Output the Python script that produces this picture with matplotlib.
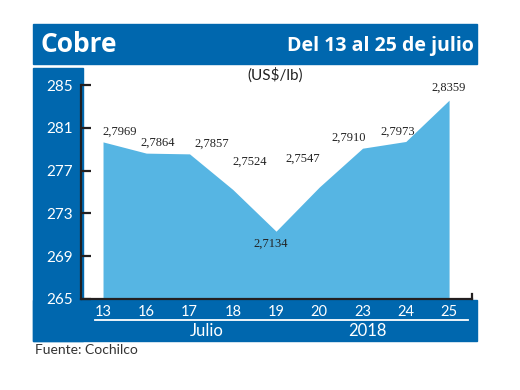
import matplotlib
matplotlib.use("Agg")
import matplotlib.pyplot as plt
from matplotlib.patches import Rectangle
from matplotlib.lines import Line2D

# ---- data ----
days = ["13", "16", "17", "18", "19", "20", "23", "24", "25"]
prices = [2.7969, 2.7864, 2.7857, 2.7524, 2.7134, 2.7547, 2.7910, 2.7973, 2.8359]
price_labels = ["2,7969", "2,7864", "2,7857", "2,7524", "2,7134", "2,7547", "2,7910", "2,7973", "2,8359"]
y_ticks = [265, 269, 273, 277, 281, 285]
title = "Cobre"
subtitle = "Del 13 al 25 de julio"
unit = "(US$/lb)"
month_label = "Julio"
year_label = "2018"
source = "Fuente: Cochilco"

# label offsets (points) relative to each data point
label_offsets = [(12, 3), (8, 3), (16, 3), (12, 16), (-4, -5), (-12, 16), (-10, 3), (-6, 3), (0, 5)]

BLUE = "#0067AE"
FILL = "#56B5E3"
INK = "#231F20"

W, H = 520, 390
fig = plt.figure(figsize=(W / 100, H / 100), dpi=100)
fig.patch.set_facecolor("white")

def fx(px):
    return px / W

def fy(py):
    return 1 - py / H

# header box
fig.patches.append(Rectangle((fx(33), fy(64)), fx(477) - fx(33), fy(24) - fy(64),
                             transform=fig.transFigure, color=BLUE, zorder=-2))
# left strip
fig.patches.append(Rectangle((fx(33), fy(341)), fx(83) - fx(33), fy(68) - fy(341),
                             transform=fig.transFigure, color=BLUE, zorder=-2))
# bottom strip
fig.patches.append(Rectangle((fx(33), fy(341)), fx(477) - fx(33), fy(300) - fy(341),
                             transform=fig.transFigure, color=BLUE, zorder=-2))
# white separator line under day labels
fig.lines.append(Line2D([fx(95), fx(468)], [fy(320), fy(320)], transform=fig.transFigure,
                        color="white", lw=1.3, zorder=-1))

fig.text(fx(40), fy(44), title, color="white", fontsize=19, fontweight="bold",
         family="Open Sans", va="center", ha="left")
fig.text(fx(474), fy(46), subtitle, color="white", fontsize=14, fontweight="bold",
         family="Open Sans", va="center", ha="right")
fig.text(fx(275), fy(75), unit, color="#222222", fontsize=11, family="Lato",
         va="center", ha="center")
fig.text(fx(207), fy(331), month_label, color="white", fontsize=12, family="Lato",
         va="center", ha="center")
fig.text(fx(367), fy(331), year_label, color="white", fontsize=12, family="Lato",
         va="center", ha="center")
fig.text(fx(35), fy(350), source, color="#333333", fontsize=10, family="Lato",
         va="center", ha="left")

ax = fig.add_axes([fx(81), fy(299), fx(472) - fx(81), fy(68) - fy(299)])
ax.patch.set_alpha(0)

xs = list(range(len(days)))
vals = [p * 100 for p in prices]
ax.fill_between(xs, vals, 265, color=FILL, lw=0, zorder=1)

ax.set_xlim(-0.509, 8.53)
ax.set_ylim(265, 286.6)
ax.set_yticks(y_ticks)
ax.set_yticklabels([str(t) for t in y_ticks])
ax.set_xticks(xs)
ax.set_xticklabels(days)

for s in ["top", "right"]:
    ax.spines[s].set_visible(False)
ax.spines["left"].set_bounds(265, 285)
for s in ["left", "bottom"]:
    ax.spines[s].set_color(INK)
    ax.spines[s].set_linewidth(1.6)
    ax.spines[s].set_zorder(3)

ax.tick_params(axis="y", direction="in", length=7, width=1.6, color=INK,
               labelcolor="white", labelsize=11, pad=6)
ax.tick_params(axis="x", length=0, labelcolor="white", labelsize=10.5, pad=4)
for lab in ax.get_yticklabels() + ax.get_xticklabels():
    lab.set_family("Lato")

# small end tick on bottom axis
ax.plot([8.53, 8.53], [265, 265.5], color=INK, lw=1.6, clip_on=False, zorder=3)

for x, v, lab, off in zip(xs, vals, price_labels, label_offsets):
    ax.annotate(lab, (x, v), xytext=off, textcoords="offset points",
                ha="center", va="bottom" if off[1] > 0 else "top",
                fontsize=9, family="Liberation Serif",
                color="#222222", zorder=4)

fig.savefig("out.png", dpi=100)
